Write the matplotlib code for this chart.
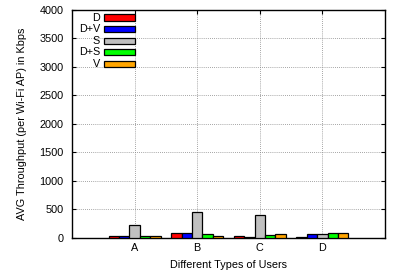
import numpy as np
import matplotlib
matplotlib.use("Agg")
from matplotlib import pyplot as plt

plt.rcParams['font.family'] = ['Liberation Sans', 'DejaVu Sans']

users = ["A", "B", "C", "D"]
series = ["D", "D+V", "S", "D+S", "V"]
cores = ["#ff0000", "#0000ff", "#c0c0c0", "#00ff00", "#ffa500"]

vals_D = [30, 94, 41, 23]
vals_DV = [40, 94, 12, 64]
vals_S = [222, 462, 409, 76]
vals_DS = [35, 76, 53, 82]
vals_V = [25, 41, 76, 82]
valores = [vals_D, vals_DV, vals_S, vals_DS, vals_V]

fig = plt.figure(figsize=(3.94, 2.75), dpi=100)
ax = fig.add_axes([0.183, 0.135, 0.794, 0.829])

x = np.arange(1, len(users) + 1)
w = 0.167
barras = []
for i, (nome, cor, v) in enumerate(zip(series, cores, valores)):
    b = ax.bar(x + (i - 2) * w, v, width=w, color=cor, edgecolor="black",
               linewidth=0.9, label=nome, zorder=3)
    barras.append(b)

fs = 7.8
ax.set_xlim(0, 5)
ax.set_ylim(0, 4000)
ax.set_xticks(x)
ax.set_xticklabels(users)
ax.set_yticks(range(0, 4001, 500))
ax.tick_params(direction="in", length=3, labelsize=fs, top=True, right=True, width=0.8)
ax.tick_params(axis="y", pad=6)
ax.grid(True, color="#888888", linestyle=(0, (1, 1.5)), linewidth=0.6, zorder=0)
for s in ax.spines.values():
    s.set_linewidth(1.0)

ax.set_xlabel("Different Types of Users", fontsize=fs)
ax.set_ylabel("AVG Throughput (per Wi-Fi AP) in Kbps", fontsize=fs)
ax.yaxis.set_label_coords(-0.16, 0.5)
ax.xaxis.set_label_coords(0.5, -0.118)
ax.xaxis.label.set_va("center")
ax.yaxis.label.set_va("center")

# gnuplot style key: label right-aligned, box on the right
leg = ax.legend(barras, [""] * len(series), loc="upper left",
                bbox_to_anchor=(0.102, 0.985), frameon=False, fontsize=7.5,
                handlelength=3.0, handleheight=0.55, labelspacing=0.15,
                handletextpad=0.0, borderpad=0.0, borderaxespad=0.0)
fig.canvas.draw()
renderer = fig.canvas.get_renderer()
inv = fig.transFigure.inverted()
for h, nome in zip(leg.legend_handles, series):
    bb = h.get_window_extent(renderer)
    px, py = inv.transform((bb.x0 - 4, (bb.y0 + bb.y1) / 2))
    fig.text(px, py, nome, ha="right", va="center", fontsize=fs)

fig.savefig("out.png", dpi=100)
